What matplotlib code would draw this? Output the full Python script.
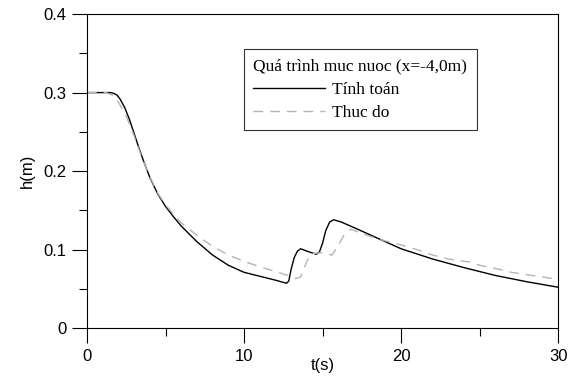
import matplotlib.pyplot as plt
from matplotlib.ticker import MultipleLocator

# Tinh toan (computed)
t_calc = [0, 1.5, 1.7, 1.9, 2.1, 2.4, 2.7, 3.0, 3.3, 3.6, 4.0, 4.5, 5.0, 5.5, 6.0,
          7.0, 8.0, 9.0, 10.0, 11.0, 12.0, 12.7, 12.85, 13.0, 13.2, 13.4, 13.6,
          14.0, 14.6, 14.8, 15.0, 15.2, 15.45, 15.7, 16.2, 17.0, 18.0, 19.0, 20.0,
          22.0, 24.0, 26.0, 28.0, 30.0]
h_calc = [0.300, 0.300, 0.299, 0.297, 0.292, 0.281, 0.266, 0.248, 0.230, 0.213,
          0.192, 0.171, 0.155, 0.142, 0.130, 0.110, 0.093, 0.080, 0.071, 0.066,
          0.061, 0.057, 0.060, 0.075, 0.090, 0.098, 0.101, 0.098, 0.094, 0.097,
          0.108, 0.124, 0.135, 0.138, 0.135, 0.128, 0.119, 0.110, 0.101, 0.088,
          0.077, 0.067, 0.059, 0.052]

# Thuc do (measured)
t_meas = [0, 1.2, 1.6, 2.0, 2.5, 3.0, 3.5, 4.0, 4.5, 5.0, 5.5, 6.0, 7.0, 8.0, 9.0,
          10.0, 11.0, 12.0, 12.8, 13.3, 13.6, 14.0, 14.3, 15.0, 15.6, 16.0, 16.4,
          16.8, 17.3, 18.0, 19.0, 20.0, 21.0, 22.0, 23.0, 24.0, 24.5, 25.0, 26.0,
          27.0, 28.0, 29.0, 30.0]
h_meas = [0.300, 0.300, 0.297, 0.288, 0.270, 0.245, 0.217, 0.193, 0.172, 0.157,
          0.145, 0.134, 0.118, 0.104, 0.093, 0.085, 0.078, 0.072, 0.067, 0.063,
          0.065, 0.085, 0.095, 0.096, 0.093, 0.105, 0.120, 0.126, 0.122, 0.117,
          0.111, 0.106, 0.100, 0.093, 0.088, 0.085, 0.084, 0.080, 0.076, 0.071,
          0.068, 0.065, 0.062]

fig = plt.figure(figsize=(5.76, 3.81), dpi=100)
ax = fig.add_axes([0.151, 0.139, 0.818, 0.824])

ax.plot(t_calc, h_calc, color='black', lw=1.0, label='Tính toán')
ax.plot(t_meas, h_meas, color='#b4b4b4', lw=1.0, dashes=(7, 5), label='Thuc do')

ax.set_xlim(0, 30)
ax.set_ylim(0, 0.4)
ax.xaxis.set_major_locator(MultipleLocator(10))
ax.xaxis.set_minor_locator(MultipleLocator(5))
ax.yaxis.set_minor_locator(MultipleLocator(0.05))
ax.set_yticks([0, 0.1, 0.2, 0.3, 0.4])
ax.set_yticklabels(['0', '0.1', '0.2', '0.3', '0.4'])
ax.tick_params(which='major', direction='out', length=11, width=0.8,
               labelsize=12, pad=4)
ax.tick_params(which='minor', direction='out', length=5.5, width=0.8)
for lab in ax.get_xticklabels() + ax.get_yticklabels():
    lab.set_fontfamily('Liberation Sans')
for s in ax.spines.values():
    s.set_linewidth(0.8)

ax.set_xlabel('t(s)', fontsize=12, family='Liberation Sans', labelpad=-4)
ax.set_ylabel('h(m)', fontsize=12, family='Liberation Sans', labelpad=6)

leg = ax.legend(title='Quá trình muc nuoc (x=-4,0m)', loc='upper left',
                bbox_to_anchor=(0.333, 0.889), frameon=True, fancybox=False,
                edgecolor='black', handlelength=4.1, handletextpad=0.45,
                borderpad=0.55, labelspacing=0.4, borderaxespad=0,
                prop={'family': 'Liberation Serif', 'size': 12.5})
leg.get_title().set_fontfamily('Liberation Serif')
leg.get_title().set_fontsize(12.5)
leg._legend_box.align = 'left'
leg.get_frame().set_linewidth(0.8)

fig.savefig('out.png', dpi=100)
